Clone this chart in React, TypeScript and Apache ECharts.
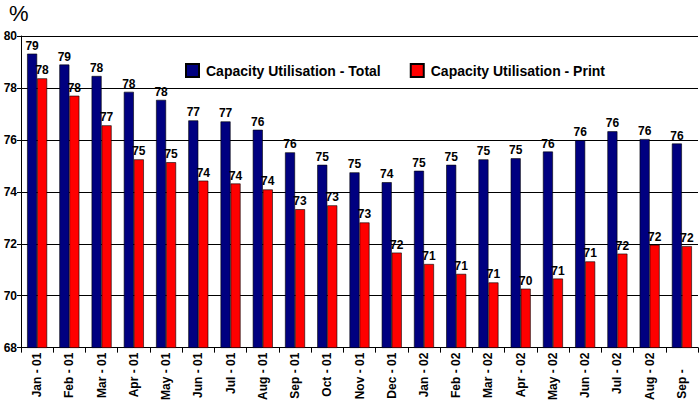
import React, { useEffect, useRef } from "react";
import * as echarts from "echarts";

const categories = [
  "Jan - 01", "Feb - 01", "Mar - 01", "Apr - 01", "May - 01", "Jun - 01", "Jul - 01",
  "Aug - 01", "Sep - 01", "Oct - 01", "Nov - 01", "Dec - 01", "Jan - 02", "Feb - 02",
  "Mar - 02", "Apr - 02", "May - 02", "Jun - 02", "Jul - 02", "Aug - 02", "Sep - 02",
];

const totalValues = [
  79.32, 78.9, 78.46, 77.85, 77.54, 76.75, 76.71, 76.39, 75.52, 75.04, 74.75,
  74.37, 74.81, 75.04, 75.25, 75.29, 75.55, 75.99, 76.33, 76.03, 75.86,
];

const printValues = [
  78.37, 77.7, 76.56, 75.25, 75.14, 74.43, 74.32, 74.09, 73.33, 73.48, 72.82,
  71.66, 71.22, 70.84, 70.51, 70.27, 70.66, 71.32, 71.62, 71.96, 71.91,
];

const seriesNames = ["Capacity Utilisation - Total", "Capacity Utilisation - Print"];

export default function App() {
  const ref = useRef<HTMLDivElement>(null);
  useEffect(() => {
    if (!ref.current) return;
    const chart = echarts.init(ref.current, null, { renderer: "svg" });
    const font = "Liberation Sans, Arial, sans-serif";
    const labelCfg = {
      show: true,
      position: "top",
      distance: 2,
      color: "#000",
      fontFamily: font,
      fontWeight: "bold",
      fontSize: 12,
      formatter: (p: any) => String(Math.round(p.value)),
    };
    chart.setOption({
      animation: false,
      backgroundColor: "#fff",
      graphic: [
        {
          type: "text",
          left: 9,
          top: 2,
          style: { text: "%", fontSize: 22, fontFamily: font, fill: "#000" },
        },
      ],
      legend: {
        left: 180,
        top: 58,
        itemWidth: 13,
        itemHeight: 13,
        itemGap: 29,
        icon: "rect",
        textStyle: { fontFamily: font, fontWeight: "bold", fontSize: 14, color: "#000", padding: [0, 0, 0, 2] },
        data: seriesNames,
      },
      grid: { left: 21, right: 1, top: 36, bottom: 51, containLabel: false },
      xAxis: {
        type: "category",
        data: categories,
        axisLine: { lineStyle: { color: "#000", width: 1 } },
        axisTick: { show: true, length: 5, lineStyle: { color: "#000" } },
        axisLabel: {
          rotate: 90,
          interval: 0,
          margin: 5,
          color: "#000",
          fontFamily: font,
          fontWeight: "bold",
          fontSize: 12,
          formatter: (v: string, i: number) =>
            i === categories.length - 1 ? "{a|" + v.slice(0, 5) + "}{h|" + v.slice(5) + "}" : v,
          rich: {
            a: { color: "#000", fontFamily: font, fontWeight: "bold", fontSize: 12 },
            h: { color: "rgba(0,0,0,0)", fontFamily: font, fontWeight: "bold", fontSize: 12 },
          },
        },
      },
      yAxis: {
        type: "value",
        min: 68,
        max: 80,
        interval: 2,
        axisLine: { show: true, lineStyle: { color: "#000", width: 1 } },
        axisTick: { show: true, length: 4, lineStyle: { color: "#000" } },
        splitLine: { show: true, lineStyle: { color: "#000", width: 1 } },
        axisLabel: {
          margin: 4,
          color: "#000",
          fontFamily: font,
          fontWeight: "bold",
          fontSize: 12,
        },
      },
      series: [
        {
          name: seriesNames[0],
          type: "bar",
          data: totalValues,
          barWidth: 10,
          barGap: "0%",
          itemStyle: { color: "#000080", borderColor: "#000", borderWidth: 0.6 },
          label: labelCfg,
        },
        {
          name: seriesNames[1],
          type: "bar",
          data: printValues,
          barWidth: 10,
          barGap: "0%",
          itemStyle: { color: "#ff0000", borderColor: "#000", borderWidth: 0.6 },
          label: labelCfg,
        },
      ],
    });
    return () => chart.dispose();
  }, []);
  return <div ref={ref} style={{ width: 699, height: 403, position: "absolute", left: 0, top: 0 }} />;
}
